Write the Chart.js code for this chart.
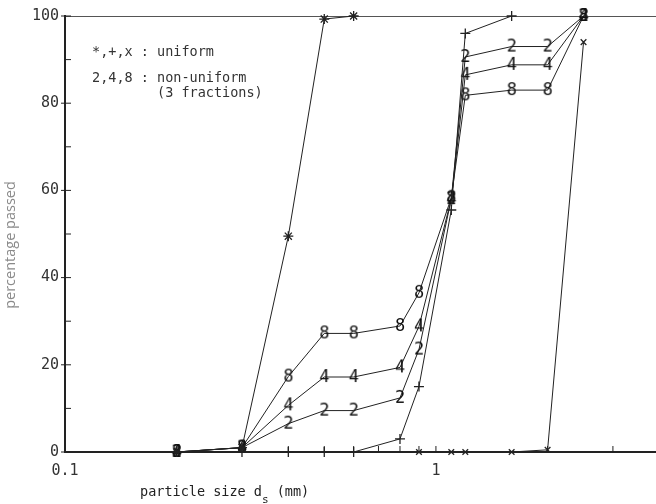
<!DOCTYPE html>
<html><head><meta charset="utf-8">
<script src="https://cdn.jsdelivr.net/npm/chart.js@4/dist/chart.umd.min.js"></script>
<style>html,body{margin:0;padding:0;background:#fff;}#wrap{width:656px;height:504px;position:relative;}</style>
</head><body><div id="wrap"><canvas id="c" width="656" height="504"></canvas></div>
<script>
// ---- data ----
const sizes = [0.2, 0.3, 0.4, 0.5, 0.6, 0.8, 0.9, 1.1, 1.2, 1.6, 2.0, 2.5];
const uniformStar = [0, 1, 49.5, 99.3, 100, null, null, null, null, null, null, null];
const uniformPlus = [0, 0, 0, 0, 0, 3, 15, 55.5, 96, 100, null, null];
const uniformX    = [null, null, null, null, null, null, 0, 0, 0, 0, 0.5, 94];
const nonUniform2 = [0, 1, 6.5, 9.5, 9.5, 12.4, 23.5, 58, 90.6, 93, 93, 100];
const nonUniform4 = [0, 1, 10.7, 17.2, 17.2, 19.4, 28.8, 58, 86.5, 88.8, 88.8, 100];
const nonUniform8 = [0, 1, 17.3, 27.2, 27.2, 28.9, 36.5, 58.3, 81.8, 83, 83, 100];
const xLabels = {0.1: '0.1', 1: '1'};
const yMajor = 20;
const legendLines = ['*,+,x : uniform', '2,4,8 : non-uniform', '        (3 fractions)'];

const MONO = '"DejaVu Sans Mono", "Liberation Mono", monospace';
const INK = '#222';

function pts(arr){ return sizes.map((s,i)=>({x:s, y:arr[i]})); }
function glyph(ch){
  const c = document.createElement('canvas'); c.width = 14; c.height = 18;
  const g = c.getContext('2d');
  g.font = '17px ' + MONO; g.fillStyle = '#111'; g.textAlign = 'center'; g.textBaseline = 'middle';
  g.fillText(ch, 7, 10);
  return c;
}
function ds(arr, style, r){
  return {data: pts(arr), borderColor: INK, backgroundColor: INK, borderWidth: 1,
    pointStyle: style, pointRadius: r, pointBorderWidth: 1.3, pointBorderColor: INK,
    tension: 0, spanGaps: false, clip: false, showLine: true, fill: false};
}

const bgPlugin = {id:'bg', beforeDraw(ch){ const c=ch.ctx; c.save(); c.fillStyle='#fff'; c.fillRect(0,0,ch.width,ch.height); c.restore(); }};

const decoPlugin = {id:'deco', afterDraw(ch){
  const c = ch.ctx, a = ch.chartArea, xs = ch.scales.x, ys = ch.scales.y;
  c.save();
  c.strokeStyle = INK; c.lineWidth = 1;
  // x ticks (inside, pointing up)
  xs.ticks.forEach(t=>{
    const v = t.value, e = Math.pow(10, Math.floor(Math.log10(v)+1e-9)), m = v/e;
    if (Math.abs(m - Math.round(m)) > 1e-6) return;
    const px = xs.getPixelForValue(v);
    if (px < a.left + 1 || px > a.right) return;
    c.beginPath(); c.moveTo(px, a.bottom); c.lineTo(px, a.bottom - 6); c.stroke();
  });
  // y ticks
  ys.ticks.forEach(t=>{
    const py = ys.getPixelForValue(t.value);
    const major = t.value % yMajor === 0;
    c.beginPath(); c.moveTo(a.left - (major ? 4 : 0), py); c.lineTo(a.left + 6, py); c.stroke();
  });
  // legend text
  c.fillStyle = '#333'; c.font = '13.5px ' + MONO; c.textBaseline = 'middle'; c.textAlign = 'left';
  const lx = a.left + 27;
  c.fillText(legendLines[0], lx, a.top + 36);
  c.fillText(legendLines[1], lx, a.top + 62);
  c.fillText(legendLines[2], lx, a.top + 77);
  // y axis title
  c.save();
  c.translate(11, 245); c.rotate(-Math.PI/2);
  c.fillStyle = '#8a8a8a'; c.font = '14.5px "Open Sans", sans-serif'; c.textAlign = 'center';
  c.fillText('percentage passed', 0, 0);
  c.restore();
  // x axis title with subscript
  c.fillStyle = '#222'; c.textAlign = 'left';
  let x = 140; const y = 492;
  c.font = '13.5px ' + MONO;
  c.fillText('particle size d', x, y); x += c.measureText('particle size d').width;
  c.font = '11px ' + MONO;
  c.fillText('s', x, y + 8); x += c.measureText('s').width;
  c.font = '13.5px ' + MONO;
  c.fillText(' (mm)', x, y);
  c.restore();
}};

new Chart(document.getElementById('c'), {
  type: 'scatter',
  data: { datasets: [
    ds(uniformStar, 'star', 5),
    ds(uniformPlus, 'cross', 5),
    ds(uniformX, 'crossRot', 4),
    ds(nonUniform2, glyph('2'), 6),
    ds(nonUniform4, glyph('4'), 6),
    ds(nonUniform8, glyph('8'), 6)
  ]},
  options: {
    responsive: false, animation: false, devicePixelRatio: 1,
    layout: {padding: 0, autoPadding: false},
    plugins: {legend: {display: false}, tooltip: {enabled: false}},
    scales: {
      x: {
        type: 'logarithmic', position: 'bottom', min: 0.1, max: 3.92,
        afterFit(s){ s.height = 52; s.paddingLeft = 0; s.paddingRight = 0; },
        grid: {display: true, drawOnChartArea: false, drawTicks: false},
        border: {display: true, width: 2, color: '#222'},
        ticks: {autoSkip: false, maxRotation: 0, padding: 10, color: '#333',
          font: {family: MONO, size: 15},
          callback(v){ for (const k in xLabels) { if (Math.abs(v - Number(k)) < 1e-9) return xLabels[k]; } return ''; }}
      },
      x2: {
        type: 'logarithmic', position: 'top', min: 0.1, max: 3.92,
        afterFit(s){ s.height = 16; s.paddingLeft = 0; s.paddingRight = 0; },
        grid: {display: true, drawOnChartArea: false, drawTicks: false},
        border: {display: true, width: 1, color: '#555'},
        ticks: {display: false}
      },
      y: {
        type: 'linear', min: 0, max: 100,
        afterFit(s){ s.width = 65; },
        grid: {display: true, drawOnChartArea: false, drawTicks: false},
        border: {display: true, width: 2, color: '#222'},
        title: {display: false},
        ticks: {stepSize: 10, padding: 6, color: '#333', font: {family: MONO, size: 15},
          callback(v){ return v % yMajor === 0 ? String(v) : ''; }}
      }
    }
  },
  plugins: [bgPlugin, decoPlugin]
});
</script></body></html>
